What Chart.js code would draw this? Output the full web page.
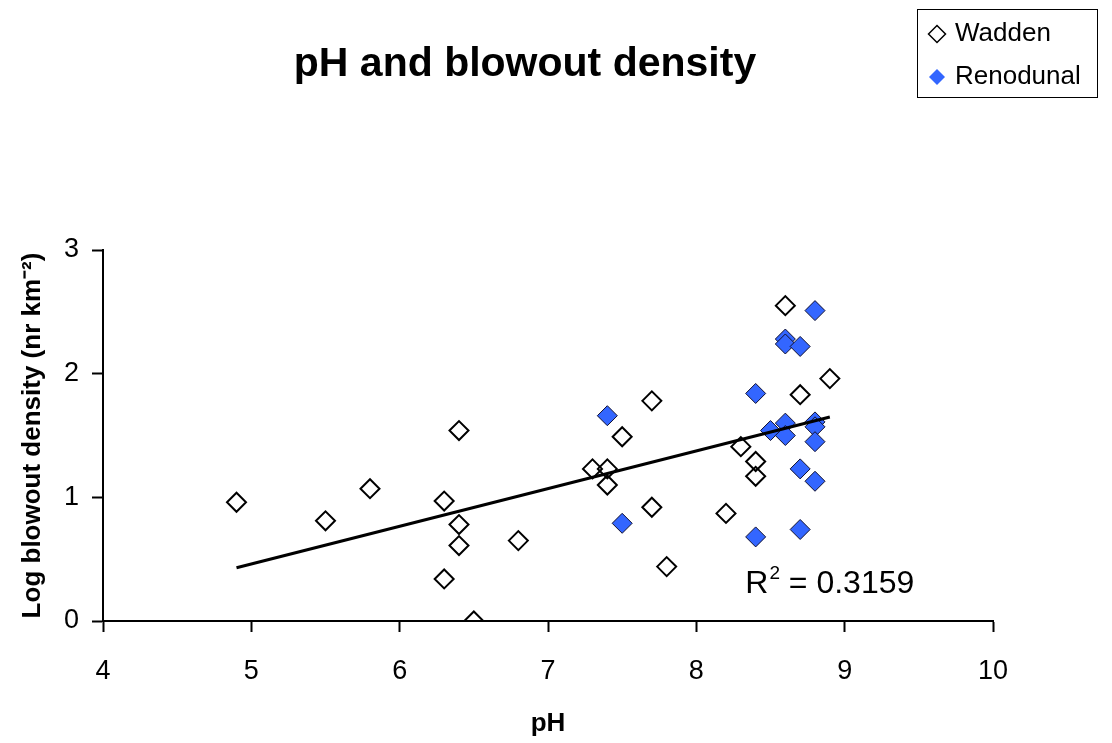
<!DOCTYPE html>
<html>
<head>
<meta charset="utf-8">
<script src="https://cdn.jsdelivr.net/npm/chart.js@4"></script>
<style>
    body { margin: 0; background: #fff; }
    #wrap { width: 1112px; height: 743px; }
</style>
</head>
<body>
<div id="wrap"><canvas id="chart1" width="1112" height="743"></canvas></div>
<script>
const FONT = '"Liberation Sans", Arial, sans-serif';

// Wadden sites
const waddenPH = [4.9, 5.5, 5.8, 6.3, 6.3, 6.4, 6.4, 6.4, 6.5, 6.8, 7.3, 7.4, 7.4, 7.5, 7.7, 7.7, 7.8, 8.2, 8.3, 8.4, 8.4, 8.6, 8.7, 8.9];
const waddenLog = [0.96, 0.81, 1.07, 0.97, 0.34, 1.54, 0.78, 0.61, 0.00, 0.65, 1.23, 1.23, 1.10, 1.49, 1.78, 0.92, 0.44, 0.87, 1.41, 1.29, 1.17, 2.55, 1.83, 1.96];

// Renodunal sites
const renoPH = [7.4, 7.5, 8.4, 8.4, 8.5, 8.6, 8.6, 8.6, 8.6, 8.7, 8.7, 8.7, 8.8, 8.8, 8.8, 8.8, 8.8];
const renoLog = [1.66, 0.79, 1.84, 0.68, 1.54, 2.28, 2.24, 1.60, 1.50, 2.22, 1.23, 0.74, 2.51, 1.61, 1.57, 1.45, 1.13];

// linear trend line (ends) and its fit
const trendPH = [4.9, 8.9];
const trendLog = [0.43, 1.65];
const rSquared = '0.3159';

const xTicks = [4, 5, 6, 7, 8, 9, 10];
const yTicks = [0, 1, 2, 3];

const toPoints = (xs, ys) => xs.map((x, i) => ({ x: x, y: ys[i] }));

// chart title, centred over the sheet like the original
const sheetTitle = {
    id: 'sheetTitle',
    afterDraw(chart) {
        const ctx = chart.ctx;
        ctx.save();
        ctx.fillStyle = '#000';
        ctx.font = 'bold 41px ' + FONT;
        ctx.textAlign = 'center';
        ctx.textBaseline = 'alphabetic';
        ctx.fillText('pH and blowout density', 525, 76);
        ctx.restore();
    }
};

// R² label, placed in data units
const r2Label = {
    id: 'r2Label',
    afterDatasetsDraw(chart) {
        const ctx = chart.ctx;
        const x = chart.scales.x.getPixelForValue(8.33);
        const y = chart.scales.y.getPixelForValue(0.226);
        ctx.save();
        ctx.fillStyle = '#000';
        ctx.textBaseline = 'alphabetic';
        ctx.font = '32px ' + FONT;
        ctx.fillText('R', x, y);
        let w = ctx.measureText('R').width;
        ctx.font = '19px ' + FONT;
        ctx.fillText('2', x + w + 1, y - 14);
        w += ctx.measureText('2').width + 1;
        ctx.font = '32px ' + FONT;
        ctx.fillText(' = ' + rSquared, x + w, y);
        ctx.restore();
    }
};

// boxed legend at the top right
const boxLegend = {
    id: 'boxLegend',
    afterDraw(chart) {
        const ctx = chart.ctx;
        const left = 917, top = 9, right = 1097, bottom = 97;
        ctx.save();
        ctx.strokeStyle = '#000';
        ctx.lineWidth = 1;
        ctx.strokeRect(left + 0.5, top + 0.5, right - left, bottom - top);
        ctx.font = '26px ' + FONT;
        ctx.textBaseline = 'middle';
        const items = chart.data.datasets.filter(d => d.label !== 'Trend').reverse();
        items.forEach((ds, i) => {
            const cy = 34 + i * 43;
            ctx.fillStyle = ds.backgroundColor;
            ctx.strokeStyle = ds.borderColor;
            ctx.lineWidth = ds.legendBorder;
            Chart.helpers.drawPoint(ctx, { pointStyle: 'rectRot', radius: ds.legendRadius, borderWidth: ds.legendBorder }, 937, cy);
            ctx.fillStyle = '#000';
            ctx.fillText(ds.label, 955, cy);
        });
        ctx.restore();
    }
};

const config1 = {
    type: 'scatter',
    data: {
        datasets: [
            {
                label: 'Trend',
                data: toPoints(trendPH, trendLog),
                showLine: true,
                borderColor: '#000',
                borderWidth: 3,
                pointRadius: 0,
                order: 0,
            },
            {
                label: 'Renodunal',
                data: toPoints(renoPH, renoLog),
                pointStyle: 'rectRot',
                pointRadius: 10,
                backgroundColor: 'rgb(51,102,255)',
                borderColor: '#101030',
                borderWidth: 1,
                legendRadius: 8,
                legendBorder: 0,
                order: 1,
            },
            {
                label: 'Wadden',
                data: toPoints(waddenPH, waddenLog),
                pointStyle: 'rectRot',
                pointRadius: 9.5,
                backgroundColor: 'rgba(255,255,255,0)',
                borderColor: '#000',
                borderWidth: 2,
                legendRadius: 8.5,
                legendBorder: 1.5,
                order: 2,
            },
        ]
    },
    options: {
        responsive: false,
        animation: false,
        layout: {
            padding: { top: 250, right: 119, bottom: 0, left: 0 },
        },
        scales: {
            x: {
                type: 'linear',
                min: 4,
                max: 10,
                afterBuildTicks: (s) => { s.ticks = xTicks.map(v => ({ value: v })); },
                afterFit: (s) => { s.height = 122; },
                grid: { drawOnChartArea: false, tickLength: 11, tickColor: '#000', tickWidth: 2 },
                border: { color: '#000', width: 2 },
                ticks: { color: '#000', font: { family: FONT, size: 27 }, padding: 23, maxRotation: 0 },
                title: {
                    display: true,
                    text: 'pH',
                    color: '#000',
                    font: { family: FONT, size: 26, weight: 'bold' },
                    padding: { top: 3 },
                },
            },
            y: {
                min: 0,
                max: 3,
                afterBuildTicks: (s) => { s.ticks = yTicks.map(v => ({ value: v })); },
                afterFit: (s) => { s.width = 103; },
                grid: { drawOnChartArea: false, tickLength: 11, tickColor: '#000', tickWidth: 2 },
                border: { color: '#000', width: 2 },
                ticks: { color: '#000', font: { family: FONT, size: 27 }, padding: 13 },
                title: {
                    display: true,
                    text: 'Log blowout density (nr km\u207B\u00B2)',
                    color: '#000',
                    font: { family: FONT, size: 26, weight: 'bold' },
                    padding: { top: 17 },
                },
            },
        },
        plugins: {
            title: { display: false },
            legend: { display: false },
            tooltip: { enabled: false },
        },
    },
    plugins: [sheetTitle, r2Label, boxLegend],
};

const chart1 = new Chart(document.getElementById('chart1').getContext('2d'), config1);
</script>
</body>
</html>
